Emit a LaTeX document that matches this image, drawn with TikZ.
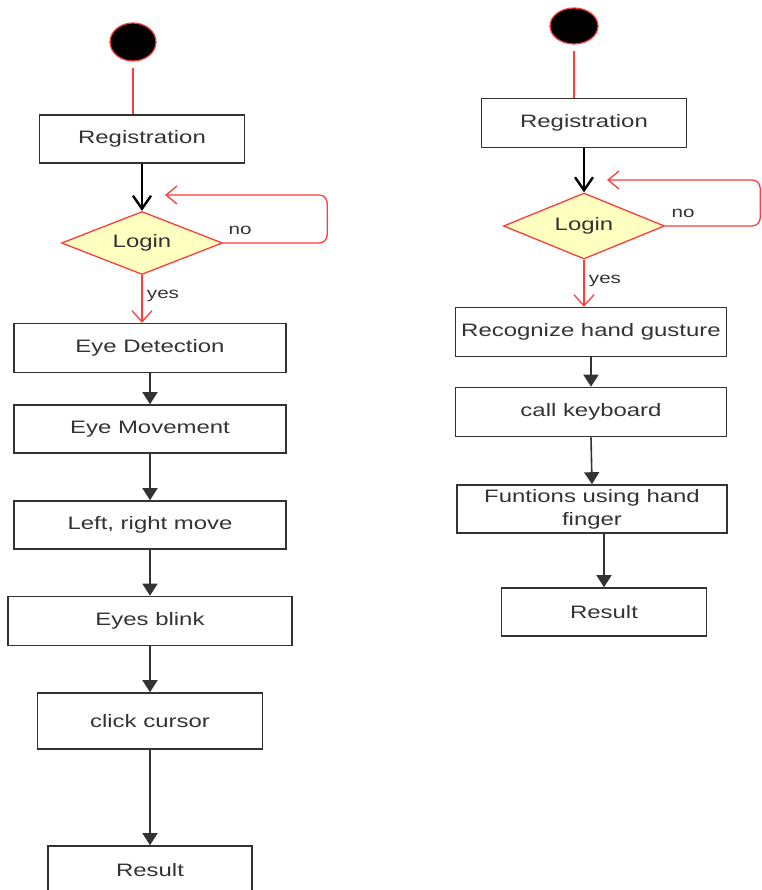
\documentclass[tikz,border=0pt]{standalone}
\usepackage{fontspec}
\setmainfont{Liberation Sans}[FakeStretch=1.33]
\usetikzlibrary{arrows.meta,shapes.geometric}

\definecolor{umlred}{HTML}{FF3B3B}
\definecolor{umlfill}{HTML}{FFFFC0}
\definecolor{umlgray}{HTML}{333333}

\tikzset{
  act/.style={rectangle, draw=umlgray, line width=1.6pt, text=umlgray, inner sep=0pt,
    align=center, font=\fontsize{18}{23}\selectfont},
  decide/.style={diamond, draw=umlred, line width=1.3pt, fill=umlfill, text=umlgray,
    inner sep=0pt, aspect=2.5, font=\fontsize{18}{23}\selectfont},
  startdot/.style={ellipse, draw=umlred, line width=1.2pt, fill=black, inner sep=0pt},
  guard/.style={text=umlgray, inner sep=0pt, font=\fontsize{15.5}{18}\selectfont},
  redline/.style={draw=umlred, line width=1.3pt},
  redarrow/.style={redline, -{Straight Barb[length=11pt,width=20pt]}},
  backarrow/.style={redline, rounded corners=8pt, -{Straight Barb[length=11pt,width=18pt]}},
  firstflow/.style={draw=black, line width=2pt, -{Straight Barb[length=13pt,width=18pt,line width=2.4pt]}},
  flow/.style={draw=umlgray, line width=1.6pt, -{Triangle[length=12pt,width=15pt]}}
}

\begin{document}
\begin{tikzpicture}[x=1pt, y=-1pt]
    \useasboundingbox (0,0) rectangle (761,890);

    % Linker diagram: oogbesturing
    \node[startdot, minimum width=46pt, minimum height=38pt] (startA) at (133,42) {};
    \node[act, minimum width=205pt, minimum height=48pt] (regA) at (142,139) {Registration};
    \node[decide, minimum width=161pt, minimum height=63pt] (lgA) at (142,243) {Login};
    \node[act, minimum width=272pt, minimum height=49pt] (det) at (150,348) {Eye Detection};
    \node[act, minimum width=272pt, minimum height=48pt] (mov) at (150,429) {Eye Movement};
    \node[act, minimum width=272pt, minimum height=48pt] (lr) at (150,525) {Left, right move};
    \node[act, minimum width=284pt, minimum height=49pt] (blink) at (150,621) {Eyes blink};
    \node[act, minimum width=225pt, minimum height=56pt] (click) at (150,721) {click cursor};
    \node[act, minimum width=204pt, minimum height=48pt] (resA) at (150,870) {Result};
    \coordinate (backA) at (165,195);

    \draw[redline, shorten <=6pt] (startA.south) -- (startA.south |- regA.north);
    \draw[firstflow] (regA.south) -- (lgA.north);
    \draw[backarrow] (lgA.east) -- ++(104,0) |- (backA);
    \node[guard] (noA) at (240,230) {no};
    \draw[redarrow] (lgA.south) -- (lgA.south |- det.north);
    \node[guard] (yesA) at (163,296) {yes};
    \draw[flow] (det.south) -- (mov.north);
    \draw[flow] (mov.south) -- (lr.north);
    \draw[flow] (lr.south) -- (blink.north);
    \draw[flow] (blink.south) -- (click.north);
    \draw[flow] (click.south) -- (resA.north);

    % Rechter diagram: handgebaren
    \node[startdot, minimum width=48pt, minimum height=36pt] (startB) at (574,26) {};
    \node[act, minimum width=205pt, minimum height=49pt] (regB) at (584,123) {Registration};
    \node[decide, minimum width=161pt, minimum height=66pt] (lgB) at (584,226) {Login};
    \node[act, minimum width=271pt, minimum height=49pt] (rec) at (591,332) {Recognize hand gusture};
    \node[act, minimum width=271pt, minimum height=49pt] (key) at (591,412) {call keyboard};
    \node[act, minimum width=270pt, minimum height=48pt] (fun) at (592,509) {Funtions using hand\\finger};
    \node[act, minimum width=205pt, minimum height=48pt] (resB) at (604,612) {Result};
    \coordinate (backB) at (607,180);

    \draw[redline, shorten <=6pt] (startB.south) -- (startB.south |- regB.north);
    \draw[firstflow] (regB.south) -- (lgB.north);
    \draw[backarrow] (lgB.east) -- ++(95,0) |- (backB);
    \node[guard] (noB) at (683,213) {no};
    \draw[redarrow] (lgB.south) -- (lgB.south |- rec.north);
    \node[guard] (yesB) at (605,281) {yes};
    \draw[flow] (rec.south) -- (key.north);
    \draw[flow] (key.south) -- (fun.north);
    \draw[flow] (fun.south -| resB.north) -- (resB.north);
\end{tikzpicture}
\end{document}
